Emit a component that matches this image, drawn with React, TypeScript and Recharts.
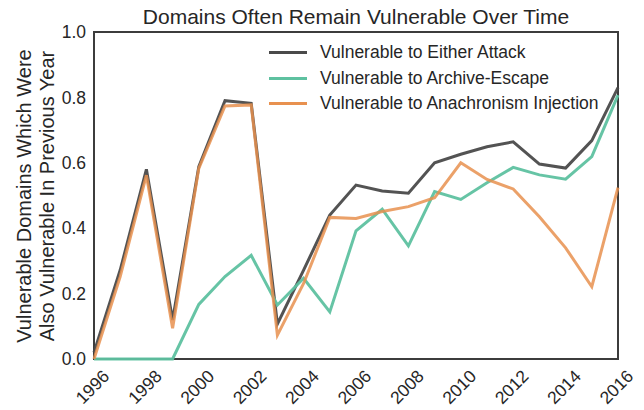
import React from "react";
import { LineChart, Line, XAxis, YAxis, ReferenceArea } from "recharts";

const years = [1996, 1997, 1998, 1999, 2000, 2001, 2002, 2003, 2004, 2005, 2006, 2007, 2008, 2009, 2010, 2011, 2012, 2013, 2014, 2015, 2016];
const eitherAttack = [0.02, 0.272, 0.58, 0.119, 0.588, 0.79, 0.782, 0.107, 0.272, 0.44, 0.532, 0.514, 0.507, 0.6, 0.626, 0.649, 0.664, 0.596, 0.584, 0.668, 0.83];
const archiveEscape = [0, 0, 0, 0, 0.167, 0.252, 0.317, 0.165, 0.247, 0.144, 0.392, 0.458, 0.346, 0.512, 0.488, 0.539, 0.586, 0.563, 0.55, 0.619, 0.807];
const anachronism = [0, 0.252, 0.562, 0.094, 0.583, 0.774, 0.777, 0.073, 0.231, 0.433, 0.43, 0.451, 0.466, 0.493, 0.6, 0.549, 0.52, 0.435, 0.34, 0.221, 0.524];
const xTicks = [1996, 1998, 2000, 2002, 2004, 2006, 2008, 2010, 2012, 2014, 2016];
const yTicks = [0, 0.2, 0.4, 0.6, 0.8, 1.0];

const seriesNames = ["Vulnerable to Either Attack", "Vulnerable to Archive-Escape", "Vulnerable to Anachronism Injection"];
const seriesColors = ["#4a4a4a", "#5ec1a0", "#e8914f"];

const data = years.map((y, i) => ({
  year: y,
  either: eitherAttack[i],
  archive: archiveEscape[i],
  anach: anachronism[i],
}));

const FONT = "'Liberation Sans', Arial, sans-serif";
const TEXT = "#262626";

const XTick = (props: any) => {
  const { x, payload } = props;
  return (
    <g transform={`translate(${x - 1.5},${387})`}>
      <text x={0} y={0} textAnchor="middle" dominantBaseline="central" transform="rotate(-45)" fontSize={17.5} fill={TEXT} fontFamily={FONT}>
        {payload.value}
      </text>
    </g>
  );
};

export default function App() {
  return (
    <div style={{ position: "absolute", left: 0, top: 0, width: 644, height: 410, background: "#fff", overflow: "hidden" }}>
      <LineChart width={644} height={410} data={data} margin={{ top: 32, right: 26, bottom: 0, left: 0 }}>
        <XAxis dataKey="year" type="number" domain={[1996, 2016]} ticks={xTicks} tick={<XTick />} tickLine={false} axisLine={false} height={51} />
        <YAxis type="number" domain={[0, 1]} ticks={yTicks} tickFormatter={(v: number) => v.toFixed(1)} tick={{ fontSize: 17.5, fill: TEXT, fontFamily: FONT }} tickLine={false} axisLine={false} width={94} tickSize={6} tickMargin={2} />
        <ReferenceArea x1={1996} x2={2016} y1={0} y2={1} fill="none" stroke="#3c3c3c" strokeWidth={2} ifOverflow="visible" />
        <Line dataKey="either" stroke={seriesColors[0]} strokeWidth={3} dot={false} isAnimationActive={false} strokeOpacity={0.95} />
        <Line dataKey="archive" stroke={seriesColors[1]} strokeWidth={3} dot={false} isAnimationActive={false} strokeOpacity={0.95} />
        <Line dataKey="anach" stroke={seriesColors[2]} strokeWidth={3} dot={false} isAnimationActive={false} strokeOpacity={0.85} />
      </LineChart>
      <div style={{ position: "absolute", left: 94, width: 524, top: 4, textAlign: "center", fontFamily: FONT, fontSize: 21, color: TEXT, lineHeight: "26px", whiteSpace: "nowrap" }}>
        Domains Often Remain Vulnerable Over Time
      </div>
      <div style={{ position: "absolute", left: 35.5, top: 196, width: 0, height: 0 }}>
        <div style={{ position: "absolute", left: 0, top: 0, transform: "translate(-50%, -50%) rotate(-90deg)", whiteSpace: "nowrap", textAlign: "center", fontFamily: FONT, fontSize: 20, color: TEXT, lineHeight: "23px" }}>
          Vulnerable Domains Which Were<br />Also Vulnerable In Previous Year
        </div>
      </div>
      <div style={{ position: "absolute", left: 269, top: 40, fontFamily: FONT, fontSize: 17.5, color: TEXT }}>
        {seriesNames.map((n, i) => (
          <div key={n} style={{ display: "flex", alignItems: "center", height: 25.5, whiteSpace: "nowrap" }}>
            <div style={{ width: 38, height: 3, background: seriesColors[i], marginRight: 13 }} />
            <span>{n}</span>
          </div>
        ))}
      </div>
    </div>
  );
}
